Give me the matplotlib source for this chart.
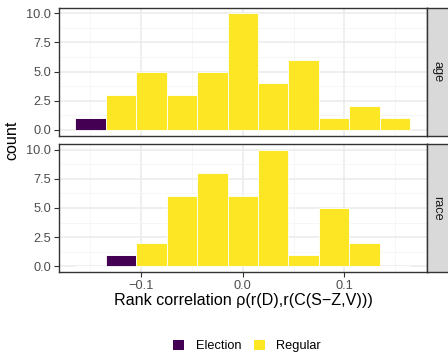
import numpy as np
import matplotlib.pyplot as plt
from matplotlib.patches import Patch

plt.rcParams['font.family'] = ['Liberation Sans', 'DejaVu Sans']

# histogram bin centres (binwidth 0.03)
bins = [-0.15, -0.12, -0.09, -0.06, -0.03, 0.0, 0.03, 0.06, 0.09, 0.12, 0.15]
binwidth = 0.03

# counts per facet; election bin flagged separately
age_election = [1, 0, 0, 0, 0, 0, 0, 0, 0, 0, 0]
age_regular = [0, 3, 5, 3, 5, 10, 4, 6, 1, 2, 1]
race_election = [0, 1, 0, 0, 0, 0, 0, 0, 0, 0, 0]
race_regular = [0, 0, 2, 6, 8, 6, 10, 1, 5, 2, 0]

facets = ['age', 'race']
counts = {'age': (age_election, age_regular), 'race': (race_election, race_regular)}

x_ticks = [-0.1, 0.0, 0.1]
x_labels = ['\u22120.1', '0.0', '0.1']
y_ticks = [0, 2.5, 5, 7.5, 10]
y_labels = ['0.0', '2.5', '5.0', '7.5', '10.0']

col_election = '#440154'
col_regular = '#FDE725'
grid_col = '#EBEBEB'
border_col = '#333333'
small = 9.2
big = 11.6

W, H = 448, 358
fig = plt.figure(figsize=(W / 100, H / 100), dpi=100)

def px_axes(left, top, right, bottom):
    return fig.add_axes([left / W, 1 - bottom / H, (right - left) / W, (bottom - top) / H])

panels = [(7.5, 135.5), (144, 272)]
for name, (top, bot) in zip(facets, panels):
    ax = px_axes(58.5, top, 427, bot)
    ax.set_xlim(-0.1815, 0.1815)
    ax.set_ylim(-0.5, 10.5)
    ax.set_xticks([-0.15, -0.05, 0.05, 0.15], minor=True)
    ax.set_yticks([1.25, 3.75, 6.25, 8.75], minor=True)
    ax.set_xticks(x_ticks)
    ax.set_yticks(y_ticks)
    ax.set_yticklabels(y_labels)
    ax.grid(True, which='major', color=grid_col, linewidth=1.1)
    ax.grid(True, which='minor', color='#F5F5F5', linewidth=0.6)
    ax.set_axisbelow(True)
    el, rg = counts[name]
    ax.bar(bins, el, width=binwidth, color=col_election, edgecolor='white', linewidth=0.6)
    ax.bar(bins, rg, width=binwidth, bottom=el, color=col_regular, edgecolor='white', linewidth=0.6)
    for s in ax.spines.values():
        s.set_color(border_col)
        s.set_linewidth(1.0)
    ax.tick_params(which='major', length=3.5, width=0.8, color=border_col,
                   labelcolor='#4D4D4D', labelsize=small, pad=2)
    ax.tick_params(which='minor', length=0)
    if name == 'race':
        ax.set_xticklabels(x_labels)
    else:
        ax.tick_params(axis='x', which='major', length=0, labelbottom=False)

    # facet strip on the right
    sax = px_axes(427, top, 452, bot)
    sax.set_xlim(0, 1)
    sax.set_ylim(0, 1)
    sax.set_facecolor('#D9D9D9')
    sax.set_xticks([])
    sax.set_yticks([])
    for s in sax.spines.values():
        s.set_color(border_col)
        s.set_linewidth(1.0)
    sax.text(0.4, 0.5, name, rotation=-90, ha='center', va='center',
             fontsize=small, color='#1A1A1A')

fig.text(12 / W, 1 - 140 / H, 'count', rotation=90, ha='center', va='center', fontsize=big)
fig.text(243 / W, 1 - 300 / H, 'Rank correlation \u03c1(r(D),r(C(S\u2212Z,V)))',
         ha='center', va='center', fontsize=big)

handles = [Patch(facecolor=col_election, edgecolor='none', label='Election'),
           Patch(facecolor=col_regular, edgecolor='none', label='Regular')]
fig.legend(handles=handles, ncol=2, loc='center', bbox_to_anchor=(247 / W, 1 - 346 / H),
           frameon=False, fontsize=small, handlelength=0.85, handleheight=0.85,
           handletextpad=0.9, columnspacing=1.0)

fig.savefig('out.png', dpi=100)
